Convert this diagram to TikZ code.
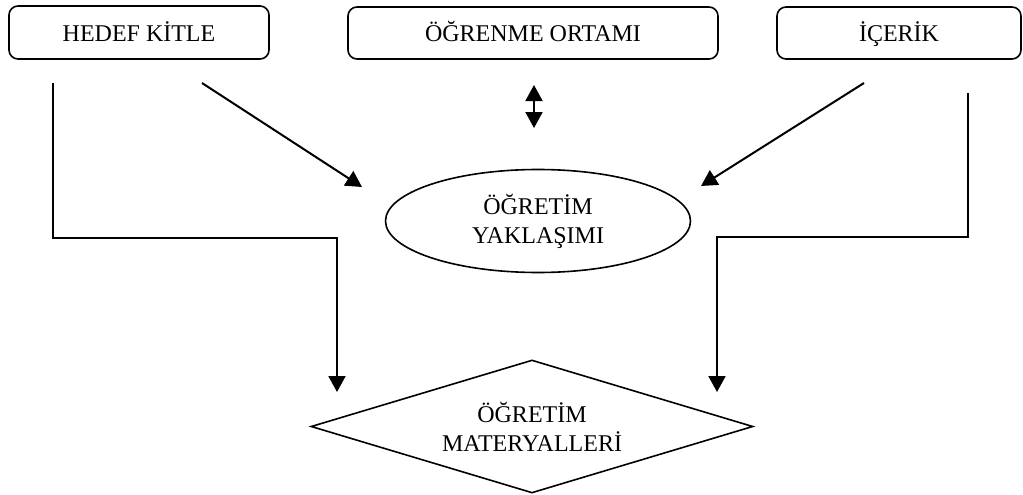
\documentclass[tikz,border=0pt]{standalone}
\usepackage{fontspec}
\setmainfont{Liberation Serif}
\usetikzlibrary{arrows.meta,shapes.geometric}
\begin{document}
\begin{tikzpicture}[x=1pt,y=-1pt,line width=1.6pt,
  lbl/.style={font=\fontsize{24}{29}\selectfont, align=center},
  box/.style={draw, rounded corners=9pt, inner sep=0pt, lbl, text height=20pt, text depth=2pt},
  conn/.style={line width=2pt},
  arr/.style={conn, -{Triangle[width=17pt,length=16pt]}},
  darr/.style={conn, {Triangle[width=17pt,length=16pt]}-{Triangle[width=17pt,length=16pt]}}]
\useasboundingbox (0,0) rectangle (1023,495);
\node[box, minimum width=260pt, minimum height=53pt] (hk) at (139,32.5) {HEDEF KİTLE};
\node[box, minimum width=370pt, minimum height=52pt] (oo) at (533,33) {ÖĞRENME ORTAMI};
\node[box, minimum width=244pt, minimum height=52pt] (ic) at (899,33) {İÇERİK};
\node[draw, ellipse, minimum width=305pt, minimum height=103pt, inner sep=0pt, lbl] (oy) at (538,221) {ÖĞRETİM\\YAKLAŞIMI};
\node[draw, diamond, aspect=3.32, minimum width=442pt, minimum height=133pt, inner sep=0pt, lbl] (om) at (532,426.5) {ÖĞRETİM\\MATERYALLERİ};
% connectors
\coordinate (l1) at (53,83);
\coordinate (l2) at (53,238);
\coordinate (l3) at (337,238);
\coordinate (l4) at (337,392);
\draw[arr] (l1) -- (l2) -- (l3) -- (l4);
\coordinate (r1) at (968,93);
\coordinate (r2) at (968,237);
\coordinate (r3) at (717,237);
\coordinate (r4) at (717,392);
\draw[arr] (r1) -- (r2) -- (r3) -- (r4);
\coordinate (d1) at (202,83);
\coordinate (d2) at (362,187);
\draw[arr] (d1) -- (d2);
\coordinate (e1) at (864,83);
\coordinate (e2) at (701,186);
\draw[arr] (e1) -- (e2);
\coordinate (v1) at (534,85);
\coordinate (v2) at (534,128);
\draw[darr] (v1) -- (v2);
\end{tikzpicture}
\end{document}
